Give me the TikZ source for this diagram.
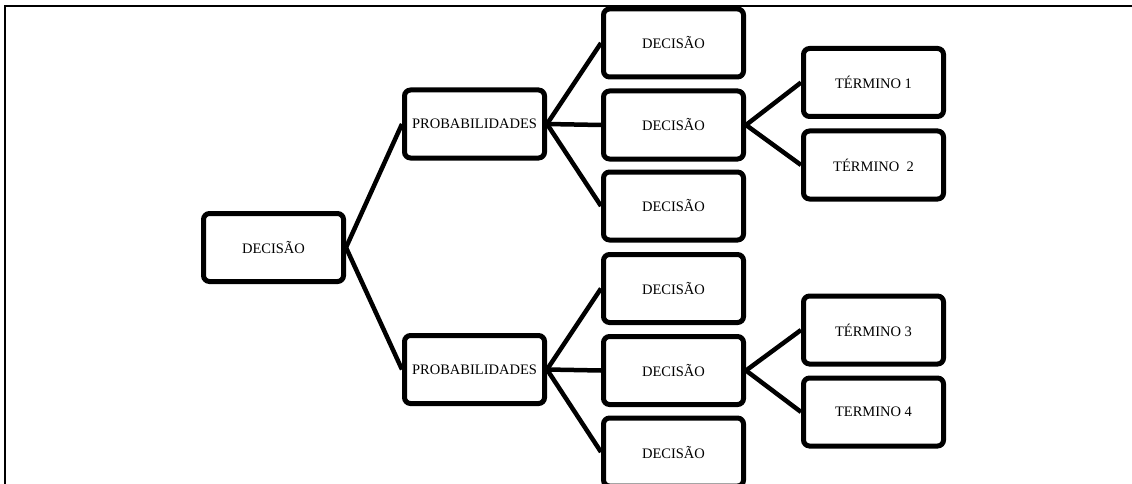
\documentclass[tikz,border=0pt]{standalone}
\usepackage{fontspec}
\setmainfont{Liberation Serif}
\tikzset{
  caixa/.style={draw,line width=5pt,rounded corners=6pt,minimum width=140pt,
    minimum height=68pt,inner sep=0pt,font=\fontsize{14.5}{16}\selectfont},
  ramo/.style={line width=4.5pt}
}
\begin{document}
\begin{tikzpicture}[x=1pt,y=-1pt]
\useasboundingbox (0,0) rectangle (1132,484);
\draw [line width=2pt] (5,484) -- (5,6.5) -- (1132,6.5);
% arvore
\node[caixa] (raiz) at (273.5,247.5) {DECIS\~AO};
\node[caixa] (prob1) at (474.5,124) {PROBABILIDADES};
\node[caixa] (prob2) at (474.5,369.5) {PROBABILIDADES};
\node[caixa] (dec1) at (673.5,43) {DECISÃO};
\node[caixa] (dec2) at (673.5,125) {DECISÃO};
\node[caixa] (dec3) at (673.5,206) {DECISÃO};
\node[caixa] (dec4) at (673.5,288.5) {DECISÃO};
\node[caixa] (dec5) at (673.5,370.5) {DECISÃO};
\node[caixa] (dec6) at (673.5,452) {DECISÃO};
\node[caixa] (term1) at (873.5,82.5) {TÉRMINO 1};
\node[caixa] (term2) at (873.5,165) {TÉRMINO\ \ 2};
\node[caixa] (term3) at (873.5,330) {TÉRMINO 3};
\node[caixa] (term4) at (873.5,412) {TERMINO 4};
% ligacoes
\foreach \a/\b in {raiz/prob1,raiz/prob2,prob1/dec1,prob1/dec2,prob1/dec3,
  prob2/dec4,prob2/dec5,prob2/dec6,dec2/term1,dec2/term2,dec5/term3,dec5/term4}
  \draw[ramo] (\a.east) -- (\b.west);
\end{tikzpicture}
\end{document}
